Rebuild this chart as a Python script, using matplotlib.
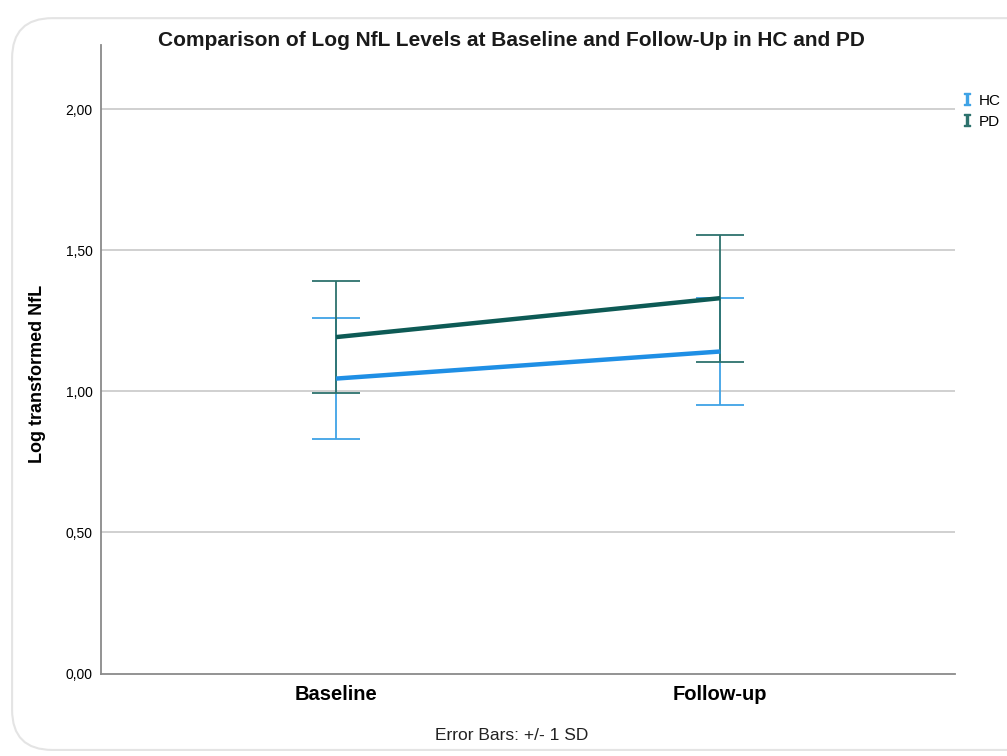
import matplotlib.pyplot as plt
import numpy as np
from matplotlib.lines import Line2D
from matplotlib.patches import FancyBboxPatch

plt.rcParams["font.family"] = ["Liberation Sans", "DejaVu Sans"]

timepoints = ["Baseline", "Follow-up"]
groups = ["HC", "PD"]
hc_mean = [1.045, 1.141]
hc_sd = [0.215, 0.189]
pd_mean = [1.192, 1.330]
pd_sd = [0.199, 0.225]
y_ticks = [0.0, 0.5, 1.0, 1.5, 2.0]

line_colors = {"HC": "#1f8fe5", "PD": "#0d5a55"}
bar_colors = {"HC": "#3fa3e6", "PD": "#2d726d"}

fig = plt.figure(figsize=(10.07, 7.56), dpi=100)
fig.patch.set_facecolor("white")

# rounded frame like the SPSS output viewer
frame = FancyBboxPatch((0.012, 0.008), 1.05, 0.968, transform=fig.transFigure,
                       boxstyle="round,pad=0,rounding_size=0.04",
                       facecolor="none", edgecolor="#e4e4e4", lw=1.5,
                       mutation_aspect=1.33, zorder=-1)
fig.patches.append(frame)

ax = fig.add_axes([0.1005, 0.1091, 0.8480, 0.8314])
ax.set_facecolor("none")

x = np.arange(len(timepoints))
for g, mean, sd in [("HC", hc_mean, hc_sd), ("PD", pd_mean, pd_sd)]:
    ax.errorbar(x, mean, yerr=sd, fmt="none", ecolor=bar_colors[g],
                elinewidth=1.3, capsize=17, capthick=1.3, zorder=3)
    ax.plot(x, mean, color=line_colors[g], lw=3.2, zorder=4,
            solid_capstyle="butt")

ax.set_xlim(-0.611, 1.611)
ax.set_ylim(0, 2.227)
ax.set_xticks(x)
ax.set_xticklabels(timepoints, fontsize=14.5, fontweight="bold")
ax.set_yticks(y_ticks)
ax.set_yticklabels([f"{v:.2f}".replace(".", ",") for v in y_ticks], fontsize=10)
ax.tick_params(axis="both", length=0, pad=6)
ax.tick_params(axis="x", pad=8)
for v in y_ticks[1:]:
    ax.axhline(v, color="#c8c8c8", lw=1.2, zorder=1)

for s in ["top", "right"]:
    ax.spines[s].set_visible(False)
for s in ["left", "bottom"]:
    ax.spines[s].set_color("#8a8a8a")
    ax.spines[s].set_linewidth(1.3)

ax.set_ylabel("Log transformed NfL", fontsize=13, fontweight="bold")
ax.yaxis.set_label_coords(-0.065, 0.476)

fig.text(0.508, 0.946, "Comparison of Log NfL Levels at Baseline and Follow-Up in HC and PD",
         ha="center", va="center", fontsize=15, fontweight="bold", color="#1a1a1a")
fig.text(0.508, 0.027, "Error Bars: +/- 1 SD", ha="center", va="center",
         fontsize=12.5, color="#222222")

handles = [Line2D([], [], linestyle="none", marker=r"$\mathtt{I}$", markersize=9,
                  color=bar_colors[g]) for g in groups]
fig.legend(handles, groups, loc="upper left", bbox_to_anchor=(0.948, 0.884),
           frameon=False, fontsize=11, handlelength=0.8, handletextpad=0.4,
           labelspacing=0.45, borderaxespad=0)

fig.savefig("out.png", dpi=100)
